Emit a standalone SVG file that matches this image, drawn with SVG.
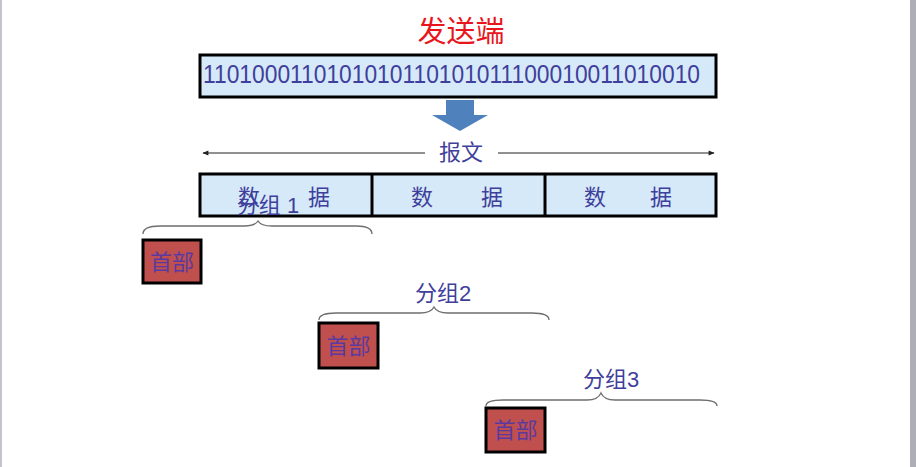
<svg xmlns="http://www.w3.org/2000/svg" width="916" height="467" viewBox="0 0 916 467">
<style>
.box{fill:#d6e9f8;stroke:#000;stroke-width:3}
.hdr{fill:#c0504d;stroke:#000;stroke-width:3}
.t{font-family:"Liberation Sans","Noto Sans CJK SC",sans-serif;fill:#3f3f9c}
.h{font-family:"Liberation Sans","Noto Sans CJK SC",sans-serif;fill:#5a3aa0;font-size:22px}
.brace{fill:none;stroke:#6e6e6e;stroke-width:1.3}
.ln{stroke:#222;stroke-width:1;fill:none}
</style>
<defs>
<marker id="ah" viewBox="0 0 10 10" refX="9" refY="5" markerWidth="10" markerHeight="6" orient="auto" markerUnits="userSpaceOnUse">
<path d="M0,1 L10,5 L0,9 z" fill="#222"/>
</marker>
</defs>
<rect width="916" height="467" fill="#fff"/>
<rect x="0" y="0" width="2" height="467" fill="#c4c4cc"/>
<rect x="910" y="0" width="6" height="467" fill="#aeaeb6"/>

<g id="title">
<text x="461" y="42" text-anchor="middle" font-family="Liberation Sans,Noto Sans CJK SC,sans-serif" font-size="29" fill="#e8161c">发送端</text>
</g>

<g id="bits">
<rect class="box" x="200" y="55" width="516" height="42"/>
<text class="t" x="203" y="83" font-size="25" textLength="497" lengthAdjust="spacingAndGlyphs">1101000110101010110101011100010011010010</text>
</g>

<g id="connectors">
<path d="M446,100 H474 V115 H488 L460,131 L432,115 H446 Z" fill="#4f81bd"/>
<line class="ln" x1="425" y1="153" x2="203" y2="153" marker-end="url(#ah)"/>
<line class="ln" x1="498" y1="153" x2="714" y2="153" marker-end="url(#ah)"/>
<path class="brace" d="M143,234 Q143,226 160,226 L244,226 Q255,226 258,221 Q261,226 272,226 L356,226 Q372,226 372,234"/>
<path class="brace" d="M319,320 Q319,313 336,313 L420,313 Q431,313 434,307 Q437,313 448,313 L532,313 Q549,313 549,320"/>
<path class="brace" d="M486,406 Q486,400 503,400 L587,400 Q598,400 601,393 Q604,400 615,400 L700,400 Q717,400 717,406"/>
</g>

<g id="message">
<text class="t" x="461" y="160" text-anchor="middle" font-size="22">报文</text>
</g>

<g id="data">
<rect class="box" x="200" y="174" width="516" height="42"/>
<line x1="372" y1="174" x2="372" y2="216" stroke="#000" stroke-width="3"/>
<line x1="545" y1="174" x2="545" y2="216" stroke="#000" stroke-width="3"/>
<text class="t" font-size="22" y="205" text-anchor="middle"><tspan x="252">数</tspan> <tspan x="319">据</tspan></text>
<text class="t" font-size="22" y="205" text-anchor="middle"><tspan x="425">数</tspan> <tspan x="492">据</tspan></text>
<text class="t" font-size="22" y="205" text-anchor="middle"><tspan x="598">数</tspan> <tspan x="661">据</tspan></text>
</g>

<g id="packet1">
<text class="t" x="268" y="213" text-anchor="middle" font-size="22">分组 1</text>
<rect class="hdr" x="143" y="240" width="58" height="43"/>
<text class="h" x="172" y="270" text-anchor="middle">首部</text>
</g>

<g id="packet2">
<text class="t" x="443" y="301" text-anchor="middle" font-size="22">分组2</text>
<rect class="hdr" x="319" y="323" width="59" height="45"/>
<text class="h" x="348.5" y="354" text-anchor="middle">首部</text>
</g>

<g id="packet3">
<text class="t" x="611" y="387" text-anchor="middle" font-size="22">分组3</text>
<rect class="hdr" x="486" y="408" width="59" height="44"/>
<text class="h" x="515.5" y="438" text-anchor="middle">首部</text>
</g>
</svg>
